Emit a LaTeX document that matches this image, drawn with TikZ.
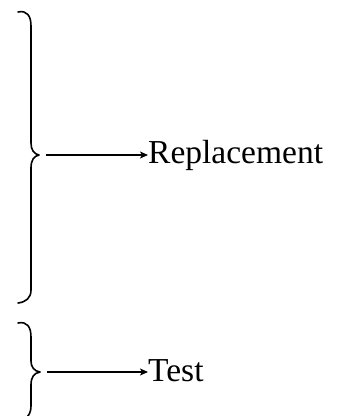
\documentclass[tikz,border=0pt]{standalone}
\usepackage{fontspec}
\setmainfont{Liberation Serif}
\usetikzlibrary{arrows.meta}
\begin{document}
\begin{tikzpicture}[x=1pt,y=-1pt,
  bracestroke/.style={line width=1.6pt,line cap=round,line join=round},
  conn/.style={line width=1.2pt,-{Stealth[length=8pt,width=7pt,inset=2pt]}},
  lbl/.style={font=\fontsize{33.5}{33.5}\selectfont,anchor=base west,inner sep=0pt}]
\path[use as bounding box,clip] (0,0) rectangle (344,416);
% upper brace
\draw[bracestroke] (18,12) .. controls (27,10) and (31,16) .. (31,26)
  -- (31,143) .. controls (31,150) and (34,154) .. (39,155)
  .. controls (34,156) and (31,160) .. (31,168)
  -- (31,290) .. controls (31,298) and (26,302) .. (18,303);
\coordinate (b1) at (46,155);
% lower brace
\draw[bracestroke] (18,323) .. controls (27,321) and (31,327) .. (31,337)
  -- (31,361) .. controls (31,367) and (34,371) .. (40,372)
  .. controls (34,373) and (31,377) .. (31,385)
  -- (31,406) .. controls (31,412) and (29,415) .. (27,417);
\coordinate (b2) at (47,372);
\node[lbl] (rep) at (148,163) {Replacement};
\node[lbl] (test) at (148,381) {Test};
\draw[conn] (b1) -- (b1 -| rep.west);
\draw[conn] (b2) -- (b2 -| test.west);
\end{tikzpicture}
\end{document}
